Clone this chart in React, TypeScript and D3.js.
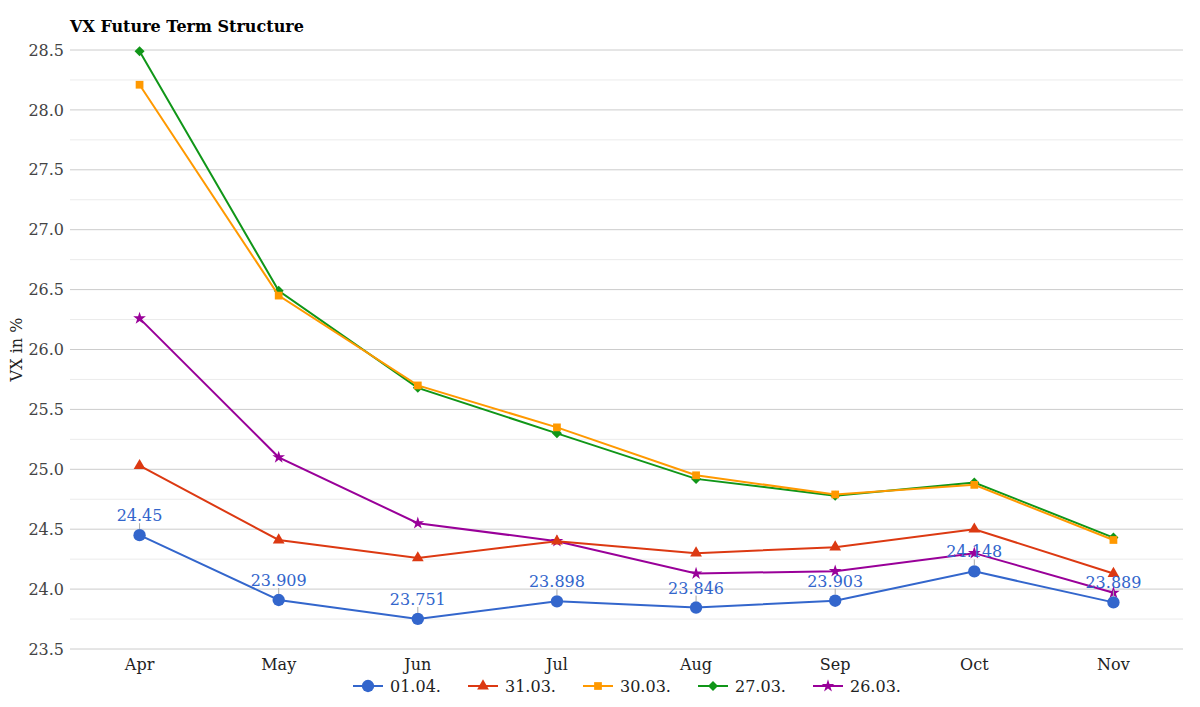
import * as d3 from 'd3'

const months = ['Apr', 'May', 'Jun', 'Jul', 'Aug', 'Sep', 'Oct', 'Nov']
const seriesNames = ['01.04.', '31.03.', '30.03.', '27.03.', '26.03.']
const s0104 = [24.45, 23.909, 23.751, 23.898, 23.846, 23.903, 24.148, 23.889]
const s3103 = [25.03, 24.41, 24.26, 24.4, 24.3, 24.35, 24.5, 24.13]
const s3003 = [28.21, 26.45, 25.7, 25.35, 24.95, 24.79, 24.87, 24.41]
const s2703 = [28.49, 26.49, 25.68, 25.3, 24.92, 24.78, 24.89, 24.43]
const s2603 = [26.26, 25.1, 24.55, 24.4, 24.13, 24.15, 24.3, 23.97]
const yTicks = [23.5, 24.0, 24.5, 25.0, 25.5, 26.0, 26.5, 27.0, 27.5, 28.0, 28.5]

const colors = ['#3366cc', '#dc3912', '#ff9900', '#109618', '#990099']
const symbols = [d3.symbolCircle, d3.symbolTriangle, d3.symbolSquare, d3.symbolSquare, d3.symbolStar]
const symSizes = [120, 60, 60, 50, 50]
const symRotate = [0, 0, 0, 45, 0]
const allSeries = [s0104, s3103, s3003, s2703, s2603]

const width = 1200
const height = 707
const margin = { top: 50, right: 17, bottom: 58, left: 70 }
const font = '"DejaVu Serif", serif'

const App = () => {
  const x = d3
    .scaleBand<string>()
    .domain(months)
    .range([margin.left, width - margin.right])
  const y = d3
    .scaleLinear()
    .domain([23.5, 28.5])
    .range([height - margin.bottom, margin.top])
  const cx = (m: string) => (x(m) ?? 0) + x.bandwidth() / 2
  const minor = d3.range(23.75, 28.5, 0.5)

  const line = d3
    .line<number>()
    .x((_, i) => cx(months[i]))
    .y((d) => y(d))

  const marker = (k: number, px: number, py: number, key: string | number) => (
    <path
      key={key}
      transform={`translate(${px},${py}) rotate(${symRotate[k]})`}
      d={d3.symbol(symbols[k], symSizes[k])() ?? ''}
      fill={colors[k]}
    />
  )

  return (
    <svg width={width} height={height} style={{ position: 'absolute', left: 0, top: 0, fontFamily: font }}>
      <rect width={width} height={height} fill="#fff" />
      <text x={70} y={32} fontSize={16} fontWeight="bold" fill="#000">
        VX Future Term Structure
      </text>

      {minor.map((t) => (
        <line key={'m' + t} x1={margin.left} x2={width - margin.right} y1={y(t)} y2={y(t)} stroke="#ebebeb" />
      ))}
      {yTicks.map((t) => (
        <g key={t}>
          <line x1={margin.left} x2={width - margin.right} y1={y(t)} y2={y(t)} stroke="#cccccc" />
          <text x={64} y={y(t)} dy="0.35em" textAnchor="end" fontSize={16} fill="#444">
            {t.toFixed(1)}
          </text>
        </g>
      ))}

      <text
        transform={`translate(22,${(margin.top + height - margin.bottom) / 2}) rotate(-90)`}
        textAnchor="middle"
        fontSize={16}
        fill="#222"
      >
        VX in %
      </text>

      {months.map((m) => (
        <text key={m} x={cx(m)} y={670} textAnchor="middle" fontSize={16} fill="#222">
          {m}
        </text>
      ))}

      {allSeries
        .map((s, k) => ({ s, k }))
        .reverse()
        .map(({ s, k }) => (
          <g key={seriesNames[k]}>
            <path d={line(s) ?? ''} fill="none" stroke={colors[k]} strokeWidth={2} />
            {s.map((v, i) => marker(k, cx(months[i]), y(v), i))}
          </g>
        ))}

      {s0104.map((v, i) => (
        <g key={'lbl' + i}>
          <line x1={cx(months[i])} x2={cx(months[i])} y1={y(v) - 12} y2={y(v) - 6} stroke="#aaa" />
          <text x={cx(months[i])} y={y(v) - 14} textAnchor="middle" fontSize={16} fill={colors[0]}>
            {String(v)}
          </text>
        </g>
      ))}

      {seriesNames.map((n, k) => {
        const lx = 353 + k * 115
        const ly = 686
        return (
          <g key={n}>
            <line x1={lx} x2={lx + 30} y1={ly} y2={ly} stroke={colors[k]} strokeWidth={2} />
            {marker(k, lx + 15, ly, 'mk')}
            <text x={lx + 37} y={ly} dy="0.35em" fontSize={16} fill="#222">
              {n}
            </text>
          </g>
        )
      })}
    </svg>
  )
}

export default App
